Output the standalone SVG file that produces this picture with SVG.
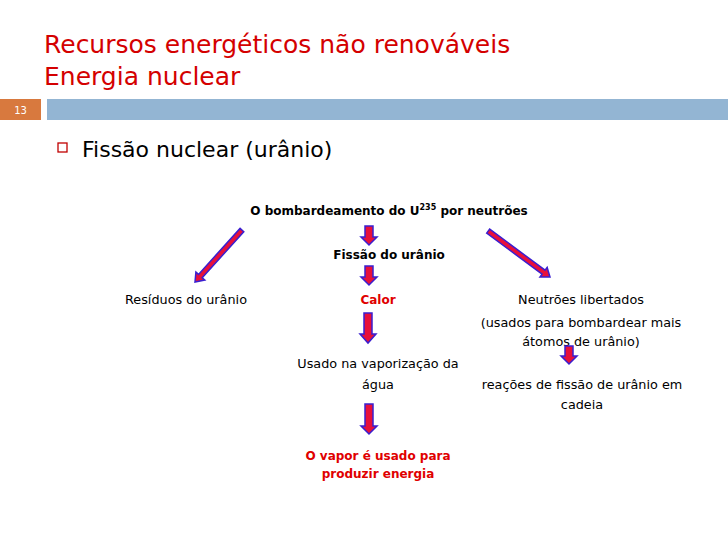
<svg xmlns="http://www.w3.org/2000/svg" width="728" height="546" viewBox="0 0 728 546">
<style>
text{font-family:"DejaVu Sans","Liberation Sans",sans-serif;}
.title{font-size:25px;fill:#d40000;}
.n{font-size:12.8px;fill:#000;text-anchor:middle;}
.b{font-size:12px;font-weight:bold;fill:#000;text-anchor:middle;}
.r{fill:#e00000;}
.arr{fill:#e8103a;stroke:#3a1fd0;stroke-width:1.5;stroke-linejoin:miter;}
</style>
<rect width="728" height="546" fill="#fff"/>
<g id="header">
<text class="title" x="44" y="53">Recursos energéticos não renováveis</text>
<text class="title" x="44" y="85">Energia nuclear</text>
<rect x="0" y="99" width="41" height="21" fill="#d8793e"/>
<text x="20.5" y="114" font-size="10" fill="#fff" text-anchor="middle">13</text>
<rect x="47" y="99" width="681" height="21" fill="#93b5d3"/>
</g>
<g id="bullet">
<rect x="58" y="143" width="9" height="9" fill="none" stroke="#c00000" stroke-width="1.3"/>
<text x="82" y="157" font-size="22" fill="#000">Fissão nuclear (urânio)</text>
</g>
<g id="n-bombardeamento"><text class="b" x="389" y="215">O bombardeamento do U<tspan font-size="8" dy="-5">235</tspan><tspan dy="5"> por neutrões</tspan></text></g>
<g id="n-fissao"><text class="b" x="389" y="259">Fissão do urânio</text></g>
<g id="n-residuos"><text class="n" x="186" y="304">Resíduos do urânio</text></g>
<g id="n-calor"><text class="b r" x="378" y="304">Calor</text></g>
<g id="n-neutroes"><text class="n" x="581" y="304">Neutrões libertados</text><text class="n" x="581" y="327">(usados para bombardear mais</text><text class="n" x="581" y="346">átomos de urânio)</text></g>
<g id="n-usado"><text class="n" x="378" y="368">Usado na vaporização da</text><text class="n" x="378" y="389">água</text></g>
<g id="n-reacoes"><text class="n" x="582" y="389">reações de fissão de urânio em</text><text class="n" x="582" y="409">cadeia</text></g>
<g id="n-vapor"><text class="b r" x="378" y="460">O vapor é usado para</text><text class="b r" x="378" y="478">produzir energia</text></g>
<g id="connectors">
<path class="arr" d="M365,226 H373 V237 H377 L369,245 L361,237 H365 Z"/>
<path class="arr" d="M365,266 H373 V277 H377 L369,285 L361,277 H365 Z"/>
<path class="arr" d="M364,313 H372 V334 H376 L368,343 L360,334 H364 Z"/>
<path class="arr" d="M565,346 H573 V356 H577 L569,364 L561,356 H565 Z"/>
<path class="arr" d="M365,404 H373 V426 H377 L369,434 L361,426 H365 Z"/>
<g transform="translate(195,282) rotate(42.1)"><path class="arr" d="M-2.5,-70 H2.5 V-8 H6 L0,0 L-6,-8 H-2.5 Z"/></g>
<g transform="translate(550,277) rotate(-53.4)"><path class="arr" d="M-2.5,-77 H2.5 V-8 H6 L0,0 L-6,-8 H-2.5 Z"/></g>
</g>
</svg>
